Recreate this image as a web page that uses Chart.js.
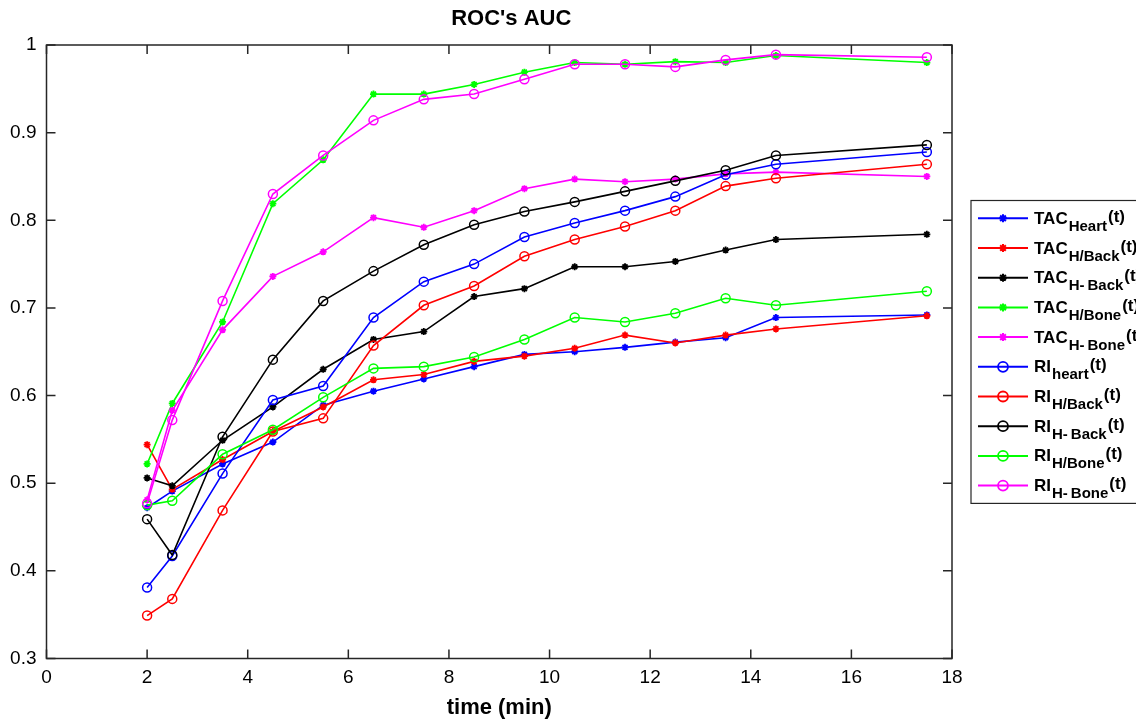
<!DOCTYPE html>
<html>
<head>
<meta charset="utf-8">
<script src="https://cdn.jsdelivr.net/npm/chart.js@4/dist/chart.umd.min.js"></script>
<style>
  html, body { margin: 0; padding: 0; background: #ffffff; }
  canvas { display: block; }
</style>
</head>
<body>
<canvas id="c" width="1136" height="721"></canvas>
<script>
// ---- data ----
const times = [2, 2.5, 3.5, 4.5, 5.5, 6.5, 7.5, 8.5, 9.5, 10.5, 11.5, 12.5, 13.5, 14.5, 17.5];

const tacHeart     = [0.472, 0.491, 0.522, 0.547, 0.589, 0.605, 0.619, 0.633, 0.647, 0.650, 0.655, 0.661, 0.666, 0.689, 0.692];
const tacHBack     = [0.544, 0.493, 0.527, 0.559, 0.587, 0.618, 0.624, 0.639, 0.645, 0.654, 0.669, 0.660, 0.669, 0.676, 0.691];
const tacHmBack    = [0.506, 0.497, 0.549, 0.587, 0.630, 0.664, 0.673, 0.713, 0.722, 0.747, 0.747, 0.753, 0.766, 0.778, 0.784];
const tacHBone     = [0.522, 0.591, 0.684, 0.819, 0.869, 0.944, 0.944, 0.955, 0.969, 0.980, 0.978, 0.981, 0.980, 0.988, 0.980];
const tacHmBone    = [0.481, 0.583, 0.675, 0.736, 0.764, 0.803, 0.792, 0.811, 0.836, 0.847, 0.844, 0.847, 0.853, 0.855, 0.850];
const riHeart      = [0.381, 0.417, 0.511, 0.595, 0.611, 0.689, 0.730, 0.750, 0.781, 0.797, 0.811, 0.827, 0.852, 0.864, 0.878];
const riHBack      = [0.349, 0.368, 0.469, 0.559, 0.574, 0.657, 0.703, 0.725, 0.759, 0.778, 0.793, 0.811, 0.839, 0.848, 0.864];
const riHmBack     = [0.459, 0.418, 0.553, 0.641, 0.708, 0.742, 0.772, 0.795, 0.810, 0.821, 0.833, 0.845, 0.857, 0.874, 0.886];
const riHBone      = [0.475, 0.480, 0.533, 0.561, 0.598, 0.631, 0.633, 0.644, 0.664, 0.689, 0.684, 0.694, 0.711, 0.703, 0.719];
const riHmBone     = [0.477, 0.572, 0.708, 0.830, 0.874, 0.914, 0.938, 0.944, 0.961, 0.978, 0.978, 0.975, 0.983, 0.989, 0.986];

const seriesValues = [tacHeart, tacHBack, tacHmBack, tacHBone, tacHmBone, riHeart, riHBack, riHmBack, riHBone, riHmBone];
const legendBase   = ['TAC', 'TAC', 'TAC', 'TAC', 'TAC', 'RI', 'RI', 'RI', 'RI', 'RI'];
const legendSub    = ['Heart', 'H/Back', 'H-\u2009Back', 'H/Bone', 'H-\u2009Bone', 'heart', 'H/Back', 'H-\u2009Back', 'H/Bone', 'H-\u2009Bone'];
const legendSuffix = '(t)';
const seriesColors = ['#0000ff', '#ff0000', '#000000', '#00ff00', '#ff00ff', '#0000ff', '#ff0000', '#000000', '#00ff00', '#ff00ff'];
const seriesMarker = ['star', 'star', 'star', 'star', 'star', 'circle', 'circle', 'circle', 'circle', 'circle'];

const titleText = "ROC's AUC";
const xTitle = 'time (min)';
const xMin = 0, xMax = 18, xStep = 2;
const yMin = 0.3, yMax = 1, yStep = 0.1;

const FONT = '"Liberation Sans", Arial, Helvetica, sans-serif';
Chart.defaults.font.family = FONT;
Chart.defaults.color = '#000000';

// ---- datasets ----
const datasets = seriesValues.map((vals, i) => ({
  label: legendBase[i] + legendSub[i] + legendSuffix,
  data: vals.map((v, k) => ({ x: times[k], y: v })),
  borderColor: seriesColors[i],
  backgroundColor: seriesColors[i],
  borderWidth: 1.6,
  tension: 0,
  pointStyle: seriesMarker[i],
  pointRadius: seriesMarker[i] === 'circle' ? 4.5 : 3.5,
  pointBorderWidth: seriesMarker[i] === 'circle' ? 1.5 : 1.8,
  pointBorderColor: seriesColors[i],
  pointBackgroundColor: seriesMarker[i] === 'circle' ? 'rgba(0,0,0,0)' : seriesColors[i],
  order: 20 - i
}));

// ---- helpers for drawing markers ----
function drawMarker(ctx, style, cx, cy, color) {
  ctx.save();
  ctx.strokeStyle = color;
  ctx.lineWidth = style === 'circle' ? 1.8 : 2;
  ctx.beginPath();
  if (style === 'circle') {
    ctx.arc(cx, cy, 5, 0, Math.PI * 2);
  } else {
    const r = 4, d = r * Math.SQRT1_2;
    ctx.moveTo(cx - r, cy); ctx.lineTo(cx + r, cy);
    ctx.moveTo(cx, cy - r); ctx.lineTo(cx, cy + r);
    ctx.moveTo(cx - d, cy - d); ctx.lineTo(cx + d, cy + d);
    ctx.moveTo(cx - d, cy + d); ctx.lineTo(cx + d, cy - d);
  }
  ctx.stroke();
  ctx.restore();
}

// ---- plugin: MATLAB-like axes box, inward ticks, title ----
const framePlugin = {
  id: 'frame',
  afterDatasetsDraw(chart) {
    const { ctx, chartArea, scales } = chart;
    const { left, right, top, bottom } = chartArea;
    const tl = 9;
    ctx.save();
    ctx.strokeStyle = '#262626';
    ctx.lineWidth = 1.5;
    ctx.strokeRect(left, top, right - left, bottom - top);
    ctx.beginPath();
    scales.x.ticks.forEach(t => {
      const px = scales.x.getPixelForValue(t.value);
      ctx.moveTo(px, bottom); ctx.lineTo(px, bottom - tl);
      ctx.moveTo(px, top); ctx.lineTo(px, top + tl);
    });
    scales.y.ticks.forEach(t => {
      const py = scales.y.getPixelForValue(t.value);
      ctx.moveTo(left, py); ctx.lineTo(left + tl, py);
      ctx.moveTo(right, py); ctx.lineTo(right - tl, py);
    });
    ctx.stroke();
    // title
    ctx.fillStyle = '#000000';
    ctx.font = 'bold 22px ' + FONT;
    ctx.textAlign = 'center';
    ctx.textBaseline = 'middle';
    ctx.fillText(titleText, (left + right) / 2 + 12, 19);
    ctx.restore();
  }
};

// ---- plugin: legend with subscripts ----
const legendPlugin = {
  id: 'subLegend',
  afterDraw(chart) {
    const { ctx } = chart;
    const bx = 971, by = 200.5, bw = 200, rowH = 29.7, first = 17.8;
    const n = chart.data.datasets.length;
    const bh = first * 2 + rowH * (n - 1);
    ctx.save();
    ctx.fillStyle = '#ffffff';
    ctx.fillRect(bx, by, bw, bh);
    ctx.strokeStyle = '#262626';
    ctx.lineWidth = 1.2;
    ctx.strokeRect(bx, by, bw, bh);
    chart.data.datasets.forEach((ds, i) => {
      const cy = by + first + i * rowH;
      ctx.strokeStyle = seriesColors[i];
      ctx.lineWidth = 2;
      ctx.beginPath();
      ctx.moveTo(978, cy); ctx.lineTo(1028, cy);
      ctx.stroke();
      drawMarker(ctx, seriesMarker[i], 1003, cy, seriesColors[i]);
      ctx.fillStyle = '#000000';
      ctx.textAlign = 'left';
      ctx.textBaseline = 'alphabetic';
      let tx = 1034;
      ctx.font = 'bold 17px ' + FONT;
      ctx.fillText(legendBase[i], tx, cy + 5.5);
      tx += ctx.measureText(legendBase[i]).width + 1;
      ctx.font = 'bold 15px ' + FONT;
      ctx.fillText(legendSub[i], tx, cy + 12.5);
      tx += ctx.measureText(legendSub[i]).width + 1;
      ctx.font = 'bold 17px ' + FONT;
      ctx.fillText(legendSuffix, tx, cy + 3.5);
    });
    ctx.restore();
  }
};

new Chart(document.getElementById('c'), {
  type: 'line',
  data: { datasets },
  options: {
    responsive: false,
    animation: false,
    devicePixelRatio: 1,
    layout: { padding: { left: 0, right: 184, top: 45, bottom: 0 } },
    plugins: {
      legend: { display: false },
      title: { display: false },
      tooltip: { enabled: false }
    },
    scales: {
      x: {
        type: 'linear',
        min: xMin, max: xMax,
        grid: { display: false, drawTicks: false },
        border: { display: false },
        ticks: { stepSize: xStep, padding: 8, color: '#000000', font: { size: 19 }, maxRotation: 0 },
        title: { display: true, text: xTitle, color: '#000000', font: { size: 22, weight: 'bold' }, padding: { top: 0, bottom: 0 } },
        afterFit(scale) { scale.height = 62.5; }
      },
      y: {
        type: 'linear',
        min: yMin, max: yMax,
        grid: { display: false, drawTicks: false },
        border: { display: false },
        ticks: {
          stepSize: yStep, padding: 10, color: '#000000', font: { size: 19 },
          callback: (v) => String(Math.round(v * 10) / 10)
        },
        afterFit(scale) { scale.width = 46.5; }
      }
    }
  },
  plugins: [framePlugin, legendPlugin]
});
</script>
</body>
</html>
